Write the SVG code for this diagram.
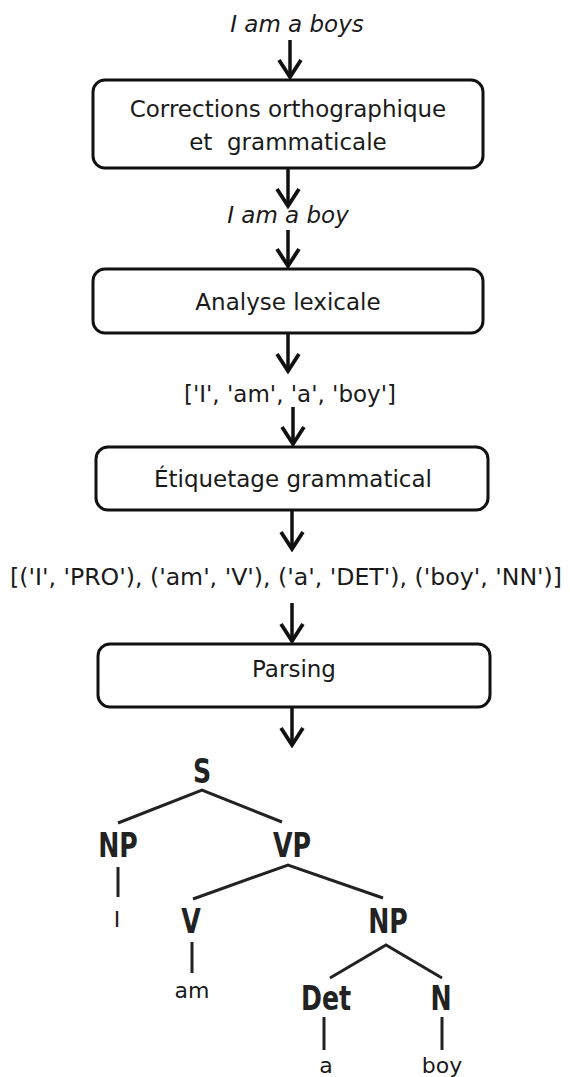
<svg xmlns="http://www.w3.org/2000/svg" width="570" height="1077" viewBox="0 0 570 1077">
<defs>
<style>
.box{fill:#fff;stroke:#111;stroke-width:3}
.t{font-family:"DejaVu Sans",sans-serif;font-size:23px;fill:#1a1a1a;text-anchor:middle;white-space:pre}
.it{font-style:italic}
.con{stroke:#111;stroke-width:3.5;fill:none}
.tree{stroke:#222;stroke-width:3;fill:none;stroke-linecap:butt}
.lab{font-family:"DejaVu Sans Condensed","DejaVu Sans",sans-serif;font-stretch:condensed;font-weight:bold;font-size:33px;fill:#222;text-anchor:middle}
.leaf{font-family:"DejaVu Sans",sans-serif;font-size:22px;fill:#1a1a1a;text-anchor:middle}
</style>
<marker id="head" viewBox="0 0 22 26" markerWidth="22" markerHeight="26" refX="19" refY="13" orient="auto" markerUnits="userSpaceOnUse">
<path d="M2,2 L19,13 L2,24" fill="none" stroke="#111" stroke-width="3.8" stroke-linejoin="miter"/>
</marker>
</defs>
<rect width="570" height="1077" fill="#fff"/>
<g id="connectors">
<line class="con" x1="290" y1="40" x2="290" y2="77" marker-end="url(#head)"/>
<line class="con" x1="288" y1="168" x2="288" y2="206" marker-end="url(#head)"/>
<line class="con" x1="288" y1="230" x2="288" y2="266" marker-end="url(#head)"/>
<line class="con" x1="288" y1="333" x2="288" y2="371" marker-end="url(#head)"/>
<line class="con" x1="293" y1="407" x2="293" y2="444" marker-end="url(#head)"/>
<line class="con" x1="292" y1="510" x2="292" y2="549" marker-end="url(#head)"/>
<line class="con" x1="292" y1="603" x2="292" y2="641" marker-end="url(#head)"/>
<line class="con" x1="292" y1="707" x2="292" y2="745" marker-end="url(#head)"/>
</g>
<g id="input"><text class="t it" x="297" y="32">I am a boys</text></g>
<g id="box-corrections">
<rect class="box" x="93" y="80" width="390" height="88" rx="12"/>
<text class="t" x="288" y="117">Corrections orthographique</text>
<text class="t" x="288" y="150">et  grammaticale</text>
</g>
<g id="corrected"><text class="t it" x="288" y="223">I am a boy</text></g>
<g id="box-lexicale">
<rect class="box" x="93" y="269" width="390" height="64" rx="12"/>
<text class="t" x="288" y="310">Analyse lexicale</text>
</g>
<g id="tokens"><text class="t" x="290" y="402">['I', 'am', 'a', 'boy']</text></g>
<g id="box-etiquetage">
<rect class="box" x="96" y="447" width="392" height="63" rx="12"/>
<text class="t" x="293" y="487">Étiquetage grammatical</text>
</g>
<g id="tags"><text class="t" x="286" y="585" textLength="552" lengthAdjust="spacingAndGlyphs">[('I', 'PRO'), ('am', 'V'), ('a', 'DET'), ('boy', 'NN')]</text></g>
<g id="box-parsing">
<rect class="box" x="98" y="644" width="392" height="63" rx="12"/>
<text class="t" x="294" y="677">Parsing</text>
</g>
<g id="tree">
<g id="tree-edges">
<polyline class="tree" points="118,823 202,790 282,822"/>
<line class="tree" x1="118" y1="867" x2="118" y2="897"/>
<polyline class="tree" points="193,899 288,865 383,898"/>
<line class="tree" x1="192" y1="942" x2="192" y2="973"/>
<polyline class="tree" points="330,978 386,945 442,978"/>
<line class="tree" x1="324" y1="1017" x2="324" y2="1050"/>
<line class="tree" x1="442" y1="1017" x2="442" y2="1050"/>
</g>
<g id="node-S"><text class="lab" transform="translate(202,783) scale(0.85,1)">S</text></g>
<g id="node-NP1"><text class="lab" transform="translate(118,857) scale(0.85,1)">NP</text></g>
<g id="node-VP"><text class="lab" transform="translate(292,857) scale(0.85,1)">VP</text></g>
<g id="node-V"><text class="lab" transform="translate(191,933) scale(0.85,1)">V</text></g>
<g id="node-NP2"><text class="lab" transform="translate(388,933) scale(0.85,1)">NP</text></g>
<g id="node-Det"><text class="lab" transform="translate(326,1010) scale(0.85,1)">Det</text></g>
<g id="node-N"><text class="lab" transform="translate(441,1010) scale(0.85,1)">N</text></g>
<g id="leaf-I"><text class="leaf" x="117" y="927">I</text></g>
<g id="leaf-am"><text class="leaf" x="192" y="998">am</text></g>
<g id="leaf-a"><text class="leaf" x="326" y="1073">a</text></g>
<g id="leaf-boy"><text class="leaf" x="442" y="1073">boy</text></g>
</g>
</svg>
